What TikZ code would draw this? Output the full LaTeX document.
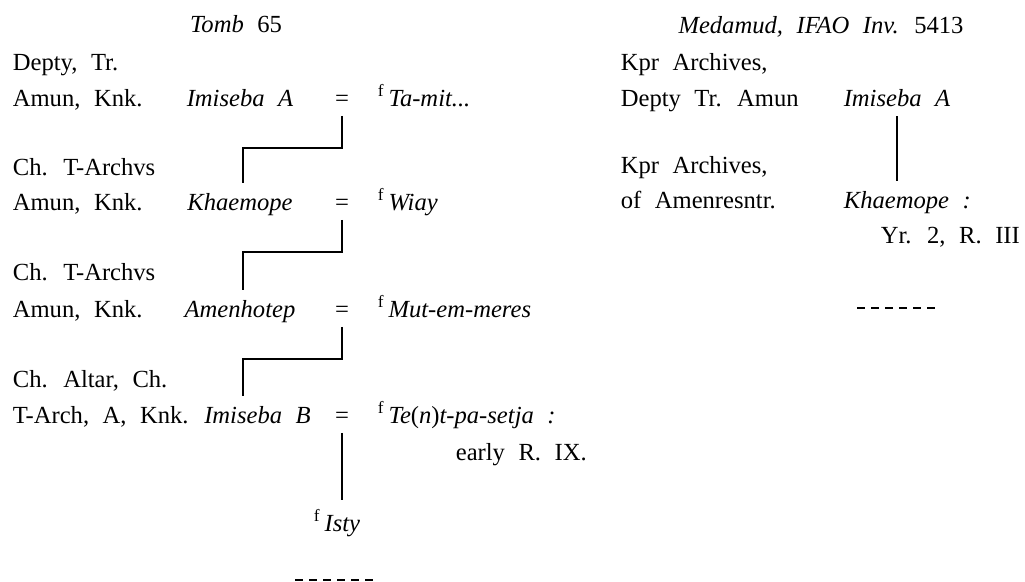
\documentclass[tikz,border=0pt]{standalone}
\usepackage{fontspec}
\setmainfont[WordSpace=2.2]{Liberation Serif}
\usepackage{tikz}

\begin{document}
\begin{tikzpicture}
    [line width=1.2pt,font=\fontsize{14}{16}\selectfont,
      every node/.style={inner sep=5pt},
      heading/.style={anchor=base},
      role/.style={anchor=base west},
      person/.style={anchor=base,font=\fontsize{14}{16}\selectfont\itshape},
      wife/.style={anchor=base west},
      missing/.style={line width=1.1pt,dash pattern=on 0.16cm off 0.12cm}]
      \useasboundingbox (0,0) rectangle (20.5,11.62);

      % left column
      \node[heading] (tomb) at (4.72,10.97) {\textit{Tomb} 65};

      \node[role] (d1a) at (0.06,10.22) {Depty, Tr.};
      \node[role] (d1b) at (0.06,9.50) {Amun, Knk.};
      \node[person] (imisA) at (4.80,9.50) {Imiseba A};
      \node[heading] (eqA) at (6.84,9.50) {=};
      \node[wife] (tamit) at (7.36,9.50) {\textsuperscript{f}\,\textit{Ta-mit...}};

      \node[role] (d2a) at (0.06,8.12) {Ch. T-Archvs};
      \node[role] (d2b) at (0.06,7.42) {Amun, Knk.};
      \node[person] (khae) at (4.80,7.42) {Khaemope};
      \node[heading] (eqB) at (6.84,7.42) {=};
      \node[wife] (wiay) at (7.36,7.42) {\textsuperscript{f}\,\textit{Wiay}};

      \node[role] (d3a) at (0.06,6.02) {Ch. T-Archvs};
      \node[role] (d3b) at (0.06,5.28) {Amun, Knk.};
      \node[person] (amen) at (4.80,5.28) {Amenhotep};
      \node[heading] (eqC) at (6.84,5.28) {=};
      \node[wife] (mut) at (7.36,5.28) {\textsuperscript{f}\,\textit{Mut-em-meres}};

      \node[role] (d4a) at (0.06,3.88) {Ch. Altar, Ch.};
      \node[role] (d4b) at (0.06,3.16) {T-Arch, A, Knk.};
      \node[person] (imisB) at (5.15,3.16) {Imiseba B};
      \node[heading] (eqD) at (6.84,3.16) {=};
      \node[wife] (tent) at (7.36,3.16) {\textsuperscript{f}\,\textit{Te}(\textit{n})\textit{t-pa-setja :}};
      \node[role] (early) at (8.92,2.42) {early R. IX.};

      \node[heading] (isty) at (6.74,1.00) {\textsuperscript{f}\,\textit{Isty}};
      \coordinate (lostL) at (5.90,0.02);

      % right column
      \node[heading] (medamud) at (16.42,10.96) {\textit{Medamud, IFAO Inv.} 5413};

      \node[role] (r1a) at (12.22,10.22) {Kpr Archives,};
      \node[role] (r1b) at (12.22,9.50) {Depty Tr. Amun};
      \node[person] (imRA) at (17.94,9.50) {Imiseba A};

      \node[role] (r2a) at (12.22,8.16) {Kpr Archives,};
      \node[role] (r2b) at (12.22,7.46) {of Amenresntr.};
      \node[person,anchor=base west] (khRA) at (16.68,7.46) {Khaemope :};
      \node[role] (yr) at (17.42,6.76) {Yr. 2, R. III};
      \coordinate (lostR) at (17.14,5.46);

      \foreach \from/\to in {eqA/khae,eqB/amen,eqC/imisB}
	\draw (\from.south) -- ++(0,-0.64) -- ++(-1.98,0) coordinate (turn) -- (turn |- \to.north);

      \foreach \from/\to in {eqD/isty,imRA/khRA}
	\draw (\from.south) -- (\from.south |- \to.north);

      \foreach \lost in {lostL,lostR}
	\draw[missing] (\lost) -- ++(1.56,0);

    \end{tikzpicture}
\end{document}
